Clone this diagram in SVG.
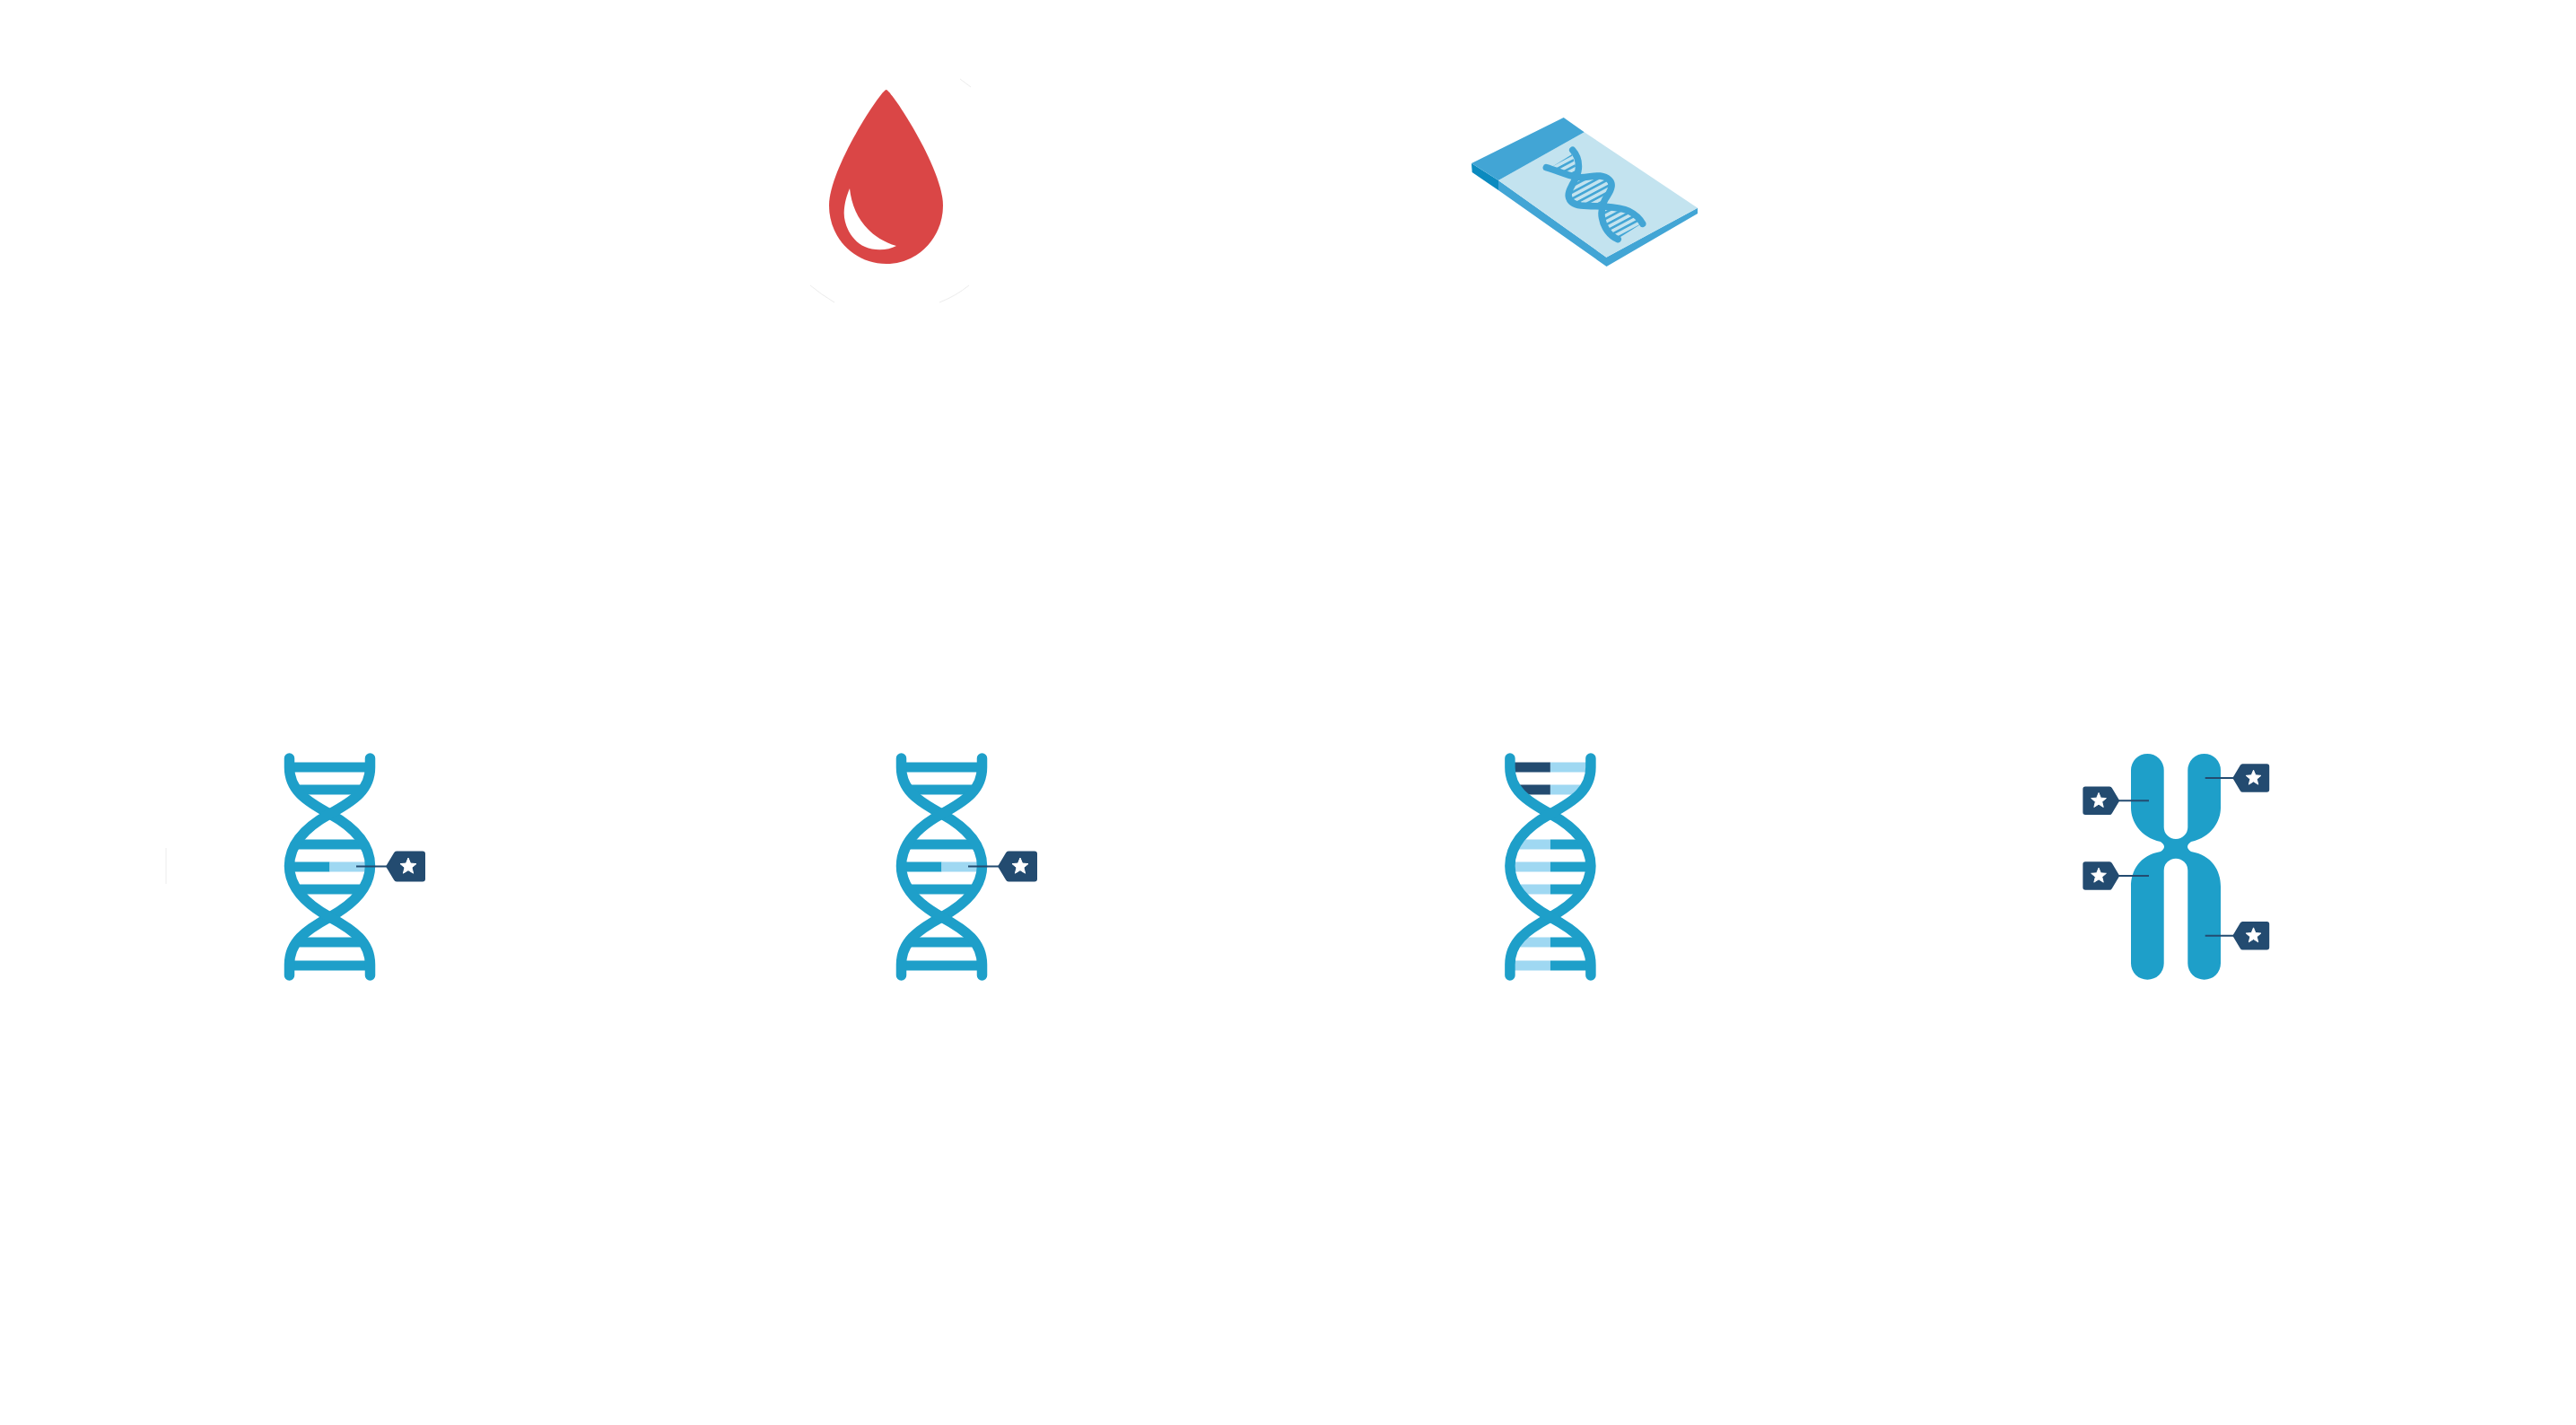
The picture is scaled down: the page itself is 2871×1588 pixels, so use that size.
<svg xmlns="http://www.w3.org/2000/svg" width="2871" height="1588" viewBox="0 0 2871 1588">
<style>
.strand{fill:none;stroke:#1e9fc9;stroke-width:11.5;stroke-linecap:round}
.bar{stroke:#1e9fc9;stroke-width:11}
.lt{stroke:#9fd8f2;stroke-width:11}
.nv{stroke:#234b70;stroke-width:11}
.lead{stroke:#234b70;stroke-width:2}
.tagb{fill:#234b70}
.star{fill:#fff;stroke:#fff;stroke-width:1;stroke-linejoin:round}
.faint{fill:none;stroke:#ececec;stroke-width:1}
.sd{fill:none;stroke:#42a5d5;stroke-width:7.5;stroke-linecap:round}
</style>
<defs>
<g id="helix">
<path class="strand" d="M322.5 845V855C322.5 880 340 892 367.5 907C393 921 412.5 940 412.5 965C412.5 990 393 1008 367.5 1022C340 1037 322.5 1050 322.5 1075V1087"/>
<path class="strand" d="M412.5 845V855C412.5 880 395 892 367.5 907C342 921 322.5 940 322.5 965C322.5 990 342 1008 367.5 1022C395 1037 412.5 1050 412.5 1075V1087"/>
</g>
<g id="tag">
<path class="tagb" d="M0 0L9 -15Q10 -17 12 -17H41Q44 -17 44 -14V14Q44 17 41 17H12Q10 17 9 15Z"/>
<polygon class="star" points="25,-9.5 27.5,-3.4 34,-2.9 29,1.3 30.6,7.7 25,4.2 19.4,7.7 21,1.3 16,-2.9 22.5,-3.4"/>
</g>
<pattern id="hatch" width="7" height="6.2" patternUnits="userSpaceOnUse" patternTransform="rotate(-28)">
<rect width="7" height="2.6" fill="#42a5d5"/>
</pattern>
</defs>
<rect width="2871" height="1588" fill="#fff"/>

<g id="blood-drop">
<path d="M987.7 100C982 100 924 188 924 229C924 265 952 294 987.7 294C1023 294 1051 265 1051 229C1051 188 993 100 987.7 100Z" fill="#da4646"/>
<path d="M947 210C950 240 968 265 999 274C990 279 975 280 964 275C950 269 940.5 252 940.7 237C941 226 944 217 947 210Z" fill="#fff"/>
<path class="faint" d="M903 318Q915 328 930 337M1047 337Q1065 330 1080 318M1070 88L1082 97"/>
</g>

<g id="slide">
<polygon points="1640,182 1640.7,192 1670,212 1670,201" fill="#0b8abf"/>
<polygon points="1670,201 1670,212 1790.5,297 1892,238 1892,231.7 1790.3,286.7" fill="#42a5d5"/>
<polygon points="1670,201 1765.7,147.3 1892,231.7 1790.3,286.7" fill="#c3e3ef"/>
<polygon points="1640,182 1742.7,131 1765.7,147.3 1670,201" fill="#42a5d5"/>
<polygon points="1728,187 1752,172 1759,195" fill="url(#hatch)"/>
<polygon points="1755,198 1785,197 1796,207 1787,226 1760,229 1749,218" fill="url(#hatch)"/>
<polygon points="1787,231 1813,234 1830,249 1803,266 1787,252" fill="url(#hatch)"/>
<path class="sd" d="M1723.3 186.7C1735 190 1745 195 1756.7 197.3C1766 199 1776 195 1783.3 196C1792 197 1797 202 1796 208C1795 215 1790 219 1788 224C1785 231 1784.5 238 1785.5 243C1787 253 1794 263 1803.3 266.7"/>
<path class="sd" d="M1752.7 167.3C1757 172 1760 180 1759.3 188C1758.5 197 1754 202 1751.7 207C1749.5 211 1747.5 215 1748.3 219C1749.5 226 1755 228 1762 229C1772 230 1780 229.5 1787 230C1800 231 1809 232 1815 235C1823 239 1828 244 1830.7 249.3"/>
</g>

<g id="dna-1">
<line class="bar" x1="322" y1="855" x2="412" y2="855"/>
<line class="bar" x1="332" y1="880" x2="403" y2="880"/>
<line class="bar" x1="332" y1="941" x2="403" y2="941"/>
<line class="bar" x1="322" y1="966" x2="367.5" y2="966"/>
<line class="lt" x1="367.5" y1="966" x2="412" y2="966"/>
<line class="bar" x1="332" y1="991" x2="403" y2="991"/>
<line class="bar" x1="332" y1="1050" x2="403" y2="1050"/>
<line class="bar" x1="322" y1="1076" x2="412" y2="1076"/>
<use href="#helix"/>
<line class="lead" x1="397" y1="965.5" x2="432" y2="965.5"/>
<use href="#tag" transform="translate(430 965.5)"/>
<path class="faint" d="M185 945V985"/>
</g>

<g id="dna-2" transform="translate(682 0)">
<line class="bar" x1="322" y1="855" x2="412" y2="855"/>
<line class="bar" x1="332" y1="880" x2="403" y2="880"/>
<line class="bar" x1="332" y1="941" x2="403" y2="941"/>
<line class="bar" x1="322" y1="966" x2="367.5" y2="966"/>
<line class="lt" x1="367.5" y1="966" x2="412" y2="966"/>
<line class="bar" x1="332" y1="991" x2="403" y2="991"/>
<line class="bar" x1="332" y1="1050" x2="403" y2="1050"/>
<line class="bar" x1="322" y1="1076" x2="412" y2="1076"/>
<use href="#helix"/>
<line class="lead" x1="397" y1="965.5" x2="432" y2="965.5"/>
<use href="#tag" transform="translate(430 965.5)"/>
</g>

<g id="dna-3" transform="translate(1360.4 0)">
<line class="nv" x1="322" y1="855" x2="367.5" y2="855"/>
<line class="lt" x1="367.5" y1="855" x2="412" y2="855"/>
<line class="nv" x1="332" y1="880" x2="367.5" y2="880"/>
<line class="lt" x1="367.5" y1="880" x2="403" y2="880"/>
<line class="lt" x1="332" y1="941" x2="367.5" y2="941"/>
<line class="bar" x1="367.5" y1="941" x2="403" y2="941"/>
<line class="lt" x1="322" y1="966" x2="367.5" y2="966"/>
<line class="bar" x1="367.5" y1="966" x2="412" y2="966"/>
<line class="lt" x1="332" y1="991" x2="367.5" y2="991"/>
<line class="bar" x1="367.5" y1="991" x2="403" y2="991"/>
<line class="lt" x1="332" y1="1050" x2="367.5" y2="1050"/>
<line class="bar" x1="367.5" y1="1050" x2="403" y2="1050"/>
<line class="lt" x1="322" y1="1076" x2="367.5" y2="1076"/>
<line class="bar" x1="367.5" y1="1076" x2="412" y2="1076"/>
<use href="#helix"/>
</g>

<g id="chromosome">
<path fill="#1e9fc9" d="M2375 858.3A18.3 18.3 0 0 1 2411.7 858.3V921.7A13.3 13.3 0 0 0 2438.3 921.7V858.3A18.3 18.3 0 0 1 2475 858.3V900C2475 915 2465 933 2442 938Q2434 943.5 2442 949C2465 953 2475 970 2475 988V1073.4A18.3 18.3 0 0 1 2438.3 1073.4V970A13.3 13.3 0 0 0 2411.7 970V1073.4A18.3 18.3 0 0 1 2375 1073.4V988C2375 970 2385 953 2408 949Q2416 943.5 2408 938C2385 933 2375 915 2375 900Z"/>
<line class="lead" x1="2360" y1="892.3" x2="2395" y2="892.3"/>
<line class="lead" x1="2360" y1="976" x2="2395" y2="976"/>
<line class="lead" x1="2457.7" y1="867" x2="2490" y2="867"/>
<line class="lead" x1="2457.7" y1="1042.7" x2="2490" y2="1042.7"/>
<use href="#tag" transform="translate(2362.3 892.3) scale(-.93 .93)"/>
<use href="#tag" transform="translate(2362.3 976) scale(-.93 .93)"/>
<use href="#tag" transform="translate(2488.3 867) scale(.93)"/>
<use href="#tag" transform="translate(2488.3 1042.7) scale(.93)"/>
</g>
</svg>
